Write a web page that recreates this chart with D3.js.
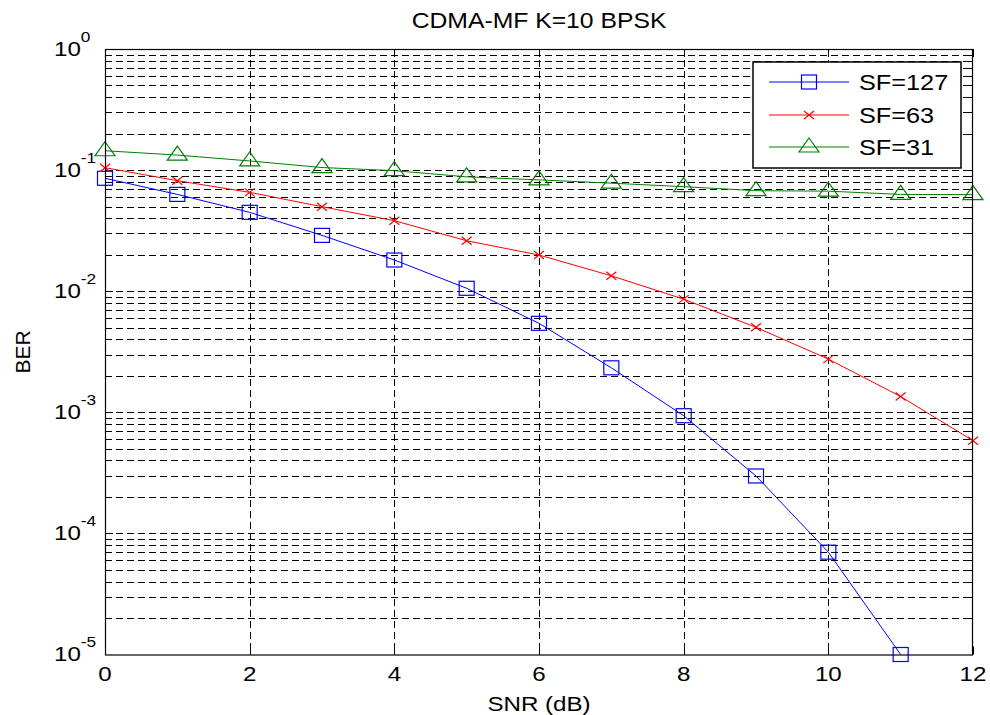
<!DOCTYPE html>
<html><head><meta charset="utf-8">
<script src="https://cdn.jsdelivr.net/npm/d3@7"></script>
<style>body{margin:0;background:#fff} text{font-family:"Liberation Sans",Arial,Helvetica,sans-serif;fill:#000}</style>
</head><body>
<svg id="c" width="990" height="715"></svg>
<script>
const snr = [0,1,2,3,4,5,6,7,8,9,10,11,12];
const berSF127 = [0.0856,0.063,0.0448,0.0289,0.0181,0.01057,0.00543,0.00233,0.000937,0.000298,0.00007,0.00001];
const berSF63 = [0.1047,0.0818,0.0655,0.0499,0.0382,0.0261,0.0199,0.0134,0.0086,0.00503,0.00275,0.00135,0.000583];
const berSF31 = [0.1445,0.133,0.119,0.105,0.099,0.088,0.083,0.078,0.073,0.0676,0.067,0.063,0.0627];
const seriesNames = ["SF=127","SF=63","SF=31"];
const seriesColors = ["#0000ff","#ff0000","#008000"];
const seriesMarkers = ["square","x","triangle"];
const xTicks = [0,2,4,6,8,10,12];
const yTickExps = [0,-1,-2,-3,-4,-5];
const titleText = "CDMA-MF K=10 BPSK";
const xLabel = "SNR (dB)";
const yLabel = "BER";

const L=105, R=973, T=49, B=654.5;
const SX=1.15;
const svg = d3.select("#c");
const x = d3.scaleLinear().domain([0,12]).range([L,R]);
const y = d3.scaleLog().domain([1e-5,1]).range([B,T]);

function txt(g, px, py, s, size, anchor){
  return g.append("text").attr("transform",`translate(${px},${py}) scale(${SX},1)`)
    .attr("text-anchor",anchor||"middle").style("font-size",size+"px").text(s);
}

svg.append("rect").attr("x",L).attr("y",T).attr("width",R-L).attr("height",B-T).attr("fill","#fff");

// grid
const grid = svg.append("g").attr("stroke","#000").attr("stroke-width",1).attr("stroke-dasharray","7,4").attr("fill","none");
const minorVals=[];
for(let e=-5;e<0;e++){ for(let m=1;m<=9;m++){ const v=m*Math.pow(10,e); if(!(m===1&&e===-5)) minorVals.push(v);} }
minorVals.forEach(v=>{
  const yy=Math.round(y(v))+0.5;
  grid.append("line").attr("x1",L).attr("x2",R).attr("y1",yy).attr("y2",yy);
});
xTicks.filter(t=>t>0&&t<12).forEach(t=>{
  const xx=Math.round(x(t))+0.5;
  grid.append("line").attr("x1",xx).attr("x2",xx).attr("y1",T).attr("y2",B);
});

// ticks
const tk = svg.append("g").attr("stroke","#000").attr("stroke-width",1);
xTicks.forEach(t=>{
  const xx=Math.round(x(t))+0.5;
  tk.append("line").attr("x1",xx).attr("x2",xx).attr("y1",B).attr("y2",B-8);
  tk.append("line").attr("x1",xx).attr("x2",xx).attr("y1",T).attr("y2",T+8);
});
minorVals.concat([1]).forEach(v=>{
  const yy=Math.round(y(v))+0.5;
  const major = Math.abs(Math.log10(v)-Math.round(Math.log10(v)))<1e-9;
  const len = major?8:5;
  tk.append("line").attr("x1",L).attr("x2",L+len).attr("y1",yy).attr("y2",yy);
  tk.append("line").attr("x1",R).attr("x2",R-len).attr("y1",yy).attr("y2",yy);
});

// series
const data = [berSF127, berSF63, berSF31];
const line = d3.line().x((d,i)=>x(snr[i])).y(d=>y(d));
function marker(g, type, color, cx, cy){
  if(type==="square"){
    g.append("rect").attr("x",cx-7.5).attr("y",cy-7).attr("width",15).attr("height",14)
      .attr("fill","none").attr("stroke",color).attr("stroke-width",1.2);
  } else if(type==="x"){
    g.append("path").attr("d",`M${cx-5},${cy-4}L${cx+5},${cy+4}M${cx-5},${cy+4}L${cx+5},${cy-4}`)
      .attr("stroke",color).attr("stroke-width",1.2).attr("fill","none");
  } else {
    g.append("path").attr("d",`M${cx},${cy-9}L${cx+10},${cy+5}L${cx-10},${cy+5}Z`)
      .attr("fill","none").attr("stroke",color).attr("stroke-width",1.2);
  }
}
data.forEach((arr,k)=>{
  const g = svg.append("g");
  g.append("path").datum(arr).attr("d",line).attr("fill","none").attr("stroke",seriesColors[k]).attr("stroke-width",1);
  arr.forEach((v,i)=>marker(g, seriesMarkers[k], seriesColors[k], x(snr[i]), y(v)));
});

// box
svg.append("rect").attr("x",L+0.5).attr("y",T+0.5).attr("width",R-L-1).attr("height",B-T).attr("fill","none").attr("stroke","#000").attr("stroke-width",1.2);

// tick labels
xTicks.forEach(t=> txt(svg, x(t), 681, String(t), 21, "middle"));
yTickExps.forEach(e=>{
  const yy=y(Math.pow(10,e));
  const t = svg.append("text").attr("transform",`translate(54,${yy+6.5}) scale(${SX},1)`).attr("text-anchor","start");
  t.append("tspan").style("font-size","21px").text("10");
  t.append("tspan").attr("dy",-14).style("font-size","15px").text(e===0?"0":"-"+(-e));
});

// title and labels
txt(svg, (L+R)/2, 28, titleText, 21.5, "middle");
txt(svg, (L+R)/2, 711, xLabel, 21, "middle");
svg.append("text").attr("transform",`translate(30,352) rotate(-90)`).attr("text-anchor","middle").style("font-size","21px").text(yLabel);

// legend
const lg = svg.append("g");
lg.append("rect").attr("x",753).attr("y",62).attr("width",208).attr("height",106).attr("fill","#fff").attr("stroke","#000").attr("stroke-width",1.5);
const ly=[82,115,147];
seriesNames.forEach((n,k)=>{
  lg.append("line").attr("x1",769).attr("x2",849).attr("y1",ly[k]).attr("y2",ly[k]).attr("stroke",seriesColors[k]).attr("stroke-width",1);
  marker(lg, seriesMarkers[k], seriesColors[k], 809, ly[k]);
  txt(lg, 859, ly[k]+8, n, 22, "start");
});
</script>
</body></html>
